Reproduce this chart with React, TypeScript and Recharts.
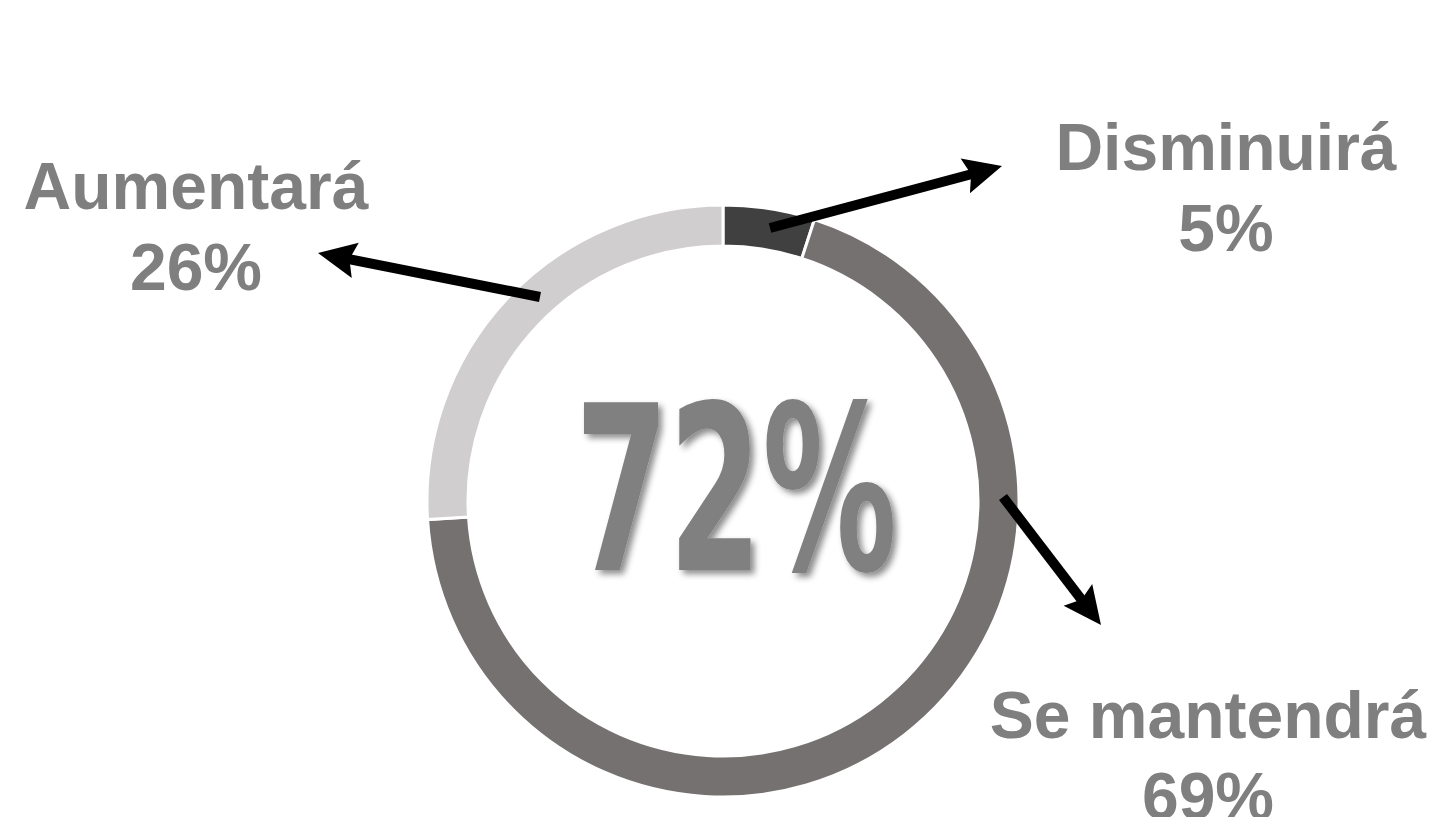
import { PieChart, Pie, Cell } from "recharts";

const categories = ["Disminuirá", "Se mantendrá", "Aumentará"];
const values = [5, 69, 26];
const valueLabels = ["5%", "69%", "26%"];
const centerLabel = "72%";

const COLORS = ["#404040", "#767171", "#D0CECE"];
const TEXT_GRAY = "#7f7f7f";

// callout layout per slice, offsets from the donut centre
const CALLOUTS = [
  { tail: [47, -273], tip: [279, -335], text: [503, -331] },
  { tail: [280, -4], tip: [378, 124], text: [485, 237] },
  { tail: [-183, -204], tip: [-405, -248], text: [-527, -292] },
];

const data = categories.map((name, i) => ({ name, value: values[i] }));

const Arrow = ({ x1, y1, x2, y2 }: { x1: number; y1: number; x2: number; y2: number }) => {
  const dx = x2 - x1;
  const dy = y2 - y1;
  const len = Math.sqrt(dx * dx + dy * dy);
  const ux = dx / len;
  const uy = dy / len;
  const headLen = 38;
  const headW = 18;
  const bx = x2 - ux * headLen;
  const by = y2 - uy * headLen;
  const pts = [
    [x2, y2],
    [bx - uy * headW, by + ux * headW],
    [bx + ux * 6, by + uy * 6],
    [bx + uy * headW, by - ux * headW],
  ]
    .map((p) => p.join(","))
    .join(" ");
  return (
    <g>
      <line x1={x1} y1={y1} x2={bx + ux * 8} y2={by + uy * 8} stroke="#000" strokeWidth={10} />
      <polygon points={pts} fill="#000" />
    </g>
  );
};

const renderLabel = (props: any) => {
  const { cx, cy, index } = props;
  const c = CALLOUTS[index];
  return (
    <g key={`lbl-${index}`}>
      {index === 0 && (
        <text
          x={cx + 13}
          y={cy + 69}
          textAnchor="middle"
          fontFamily="'Liberation Sans Narrow', 'DejaVu Sans Condensed', sans-serif"
          fontWeight="bold"
          fontSize={230}
          textLength={322}
          lengthAdjust="spacingAndGlyphs"
          fill="#808080"
          filter="url(#softShadow)"
        >
          {centerLabel}
        </text>
      )}
      <Arrow x1={cx + c.tail[0]} y1={cy + c.tail[1]} x2={cx + c.tip[0]} y2={cy + c.tip[1]} />
      <text
        x={cx + c.text[0]}
        y={cy + c.text[1]}
        textAnchor="middle"
        fontFamily="'Liberation Sans', Arial, sans-serif"
        fontWeight="bold"
        fontSize={66}
        fill={TEXT_GRAY}
      >
        <tspan x={cx + c.text[0]}>{categories[index]}</tspan>
        <tspan x={cx + c.text[0]} dy={81}>
          {valueLabels[index]}
        </tspan>
      </text>
    </g>
  );
};

export default function App() {
  return (
    <div style={{ position: "fixed", left: 0, top: 0, width: 1438, height: 817, background: "#fff" }}>
      <PieChart width={1438} height={817} margin={{ top: 0, right: 0, bottom: 0, left: 0 }}>
        <defs>
          <filter id="softShadow" x="-10%" y="-10%" width="130%" height="130%">
            <feDropShadow dx={4} dy={4} stdDeviation={3} floodColor="#000" floodOpacity={0.45} />
          </filter>
        </defs>
        <Pie
          data={data}
          dataKey="value"
          nameKey="name"
          cx={723}
          cy={501}
          innerRadius={255}
          outerRadius={296}
          startAngle={90}
          endAngle={-270}
          stroke="#fff"
          strokeWidth={3}
          label={renderLabel}
          labelLine={false}
          isAnimationActive={false}
        >
          {data.map((d, i) => (
            <Cell key={d.name} fill={COLORS[i]} />
          ))}
        </Pie>
      </PieChart>
    </div>
  );
}
